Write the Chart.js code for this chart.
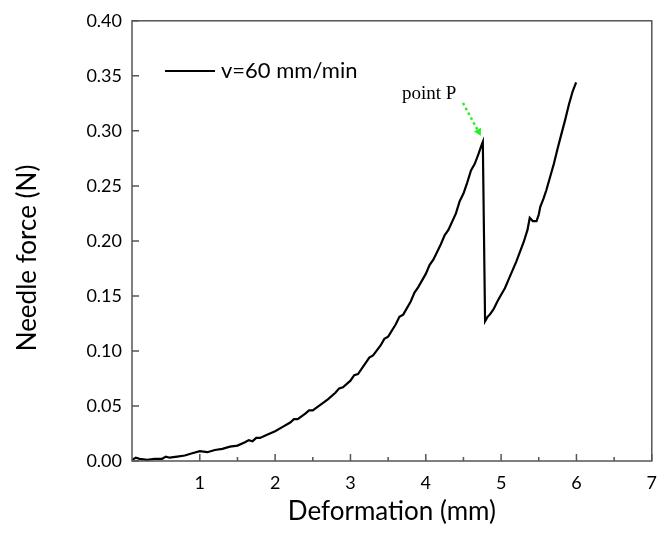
<!DOCTYPE html>
<html>
<head>
<meta charset="utf-8">
<script src="https://cdn.jsdelivr.net/npm/chart.js@4.4.1/dist/chart.umd.min.js"></script>
<style>
  html, body { margin: 0; padding: 0; background: #fff; }
  #wrap { width: 668px; height: 533px; }
</style>
</head>
<body>
<div id="wrap"><canvas id="needle"></canvas></div>
<script>
// deformation (mm) / needle force (N)
const deformation = [0.10, 0.15, 0.20, 0.30, 0.40, 0.50, 0.55, 0.60, 0.70, 0.80, 0.90, 1.00,
    1.10, 1.20, 1.30, 1.40, 1.50, 1.60, 1.65, 1.70, 1.75, 1.80, 1.90,
    2.00, 2.10, 2.20, 2.25, 2.30, 2.40, 2.45, 2.50, 2.60, 2.70, 2.80, 2.85, 2.90,
    3.00, 3.05, 3.10, 3.20, 3.25, 3.30, 3.40, 3.45, 3.50, 3.60, 3.65, 3.70, 3.80, 3.85, 3.90,
    4.00, 4.05, 4.10, 4.20, 4.25, 4.30, 4.40, 4.45, 4.50, 4.55, 4.60, 4.65, 4.70,
    4.74, 4.757, 4.787, 4.82, 4.85, 4.90, 4.95, 5.00, 5.05, 5.10,
    5.15, 5.20, 5.25, 5.30, 5.35, 5.38, 5.42, 5.47, 5.50, 5.52,
    5.56, 5.60, 5.65, 5.70, 5.75, 5.80, 5.85, 5.90, 5.95, 5.996];
const force = [0.001, 0.003, 0.002, 0.001, 0.002, 0.002, 0.004, 0.003, 0.004, 0.005, 0.007, 0.009,
    0.008, 0.010, 0.011, 0.013, 0.014, 0.017, 0.019, 0.018, 0.021, 0.021, 0.024,
    0.027, 0.031, 0.035, 0.038, 0.038, 0.043, 0.046, 0.046, 0.051, 0.056, 0.062, 0.066, 0.067,
    0.073, 0.078, 0.079, 0.089, 0.094, 0.096, 0.105, 0.111, 0.113, 0.124, 0.131, 0.133, 0.145, 0.153, 0.158,
    0.170, 0.178, 0.183, 0.197, 0.205, 0.210, 0.225, 0.236, 0.243, 0.253, 0.264, 0.270, 0.279,
    0.287, 0.290, 0.127, 0.131, 0.133, 0.138, 0.145, 0.151, 0.157, 0.165,
    0.173, 0.181, 0.190, 0.199, 0.210, 0.221, 0.218, 0.218, 0.224, 0.231,
    0.238, 0.246, 0.258, 0.270, 0.284, 0.297, 0.310, 0.324, 0.336, 0.344];

const xTicks = [1, 2, 3, 4, 5, 6, 7];
const xMinor = [1.5, 2.5, 3.5, 4.5, 5.5, 6.5];
const yTicks = [0, 0.05, 0.10, 0.15, 0.20, 0.25, 0.30, 0.35, 0.40];
const seriesName = 'v=60 mm/min';
const pointLabel = 'point P';
const peakX = 4.757, peakY = 0.290;

const frameColor = '#555555';

// 외곽 박스, 안쪽 눈금, 축 제목, 범례, point P 화살표
const decor = {
    id: 'decor',
    afterDraw(c) {
        const ctx = c.ctx;
        const a = c.chartArea;
        const xs = c.scales.x, ys = c.scales.y;
        ctx.save();
        ctx.strokeStyle = frameColor;
        ctx.lineWidth = 1.5;
        ctx.strokeRect(a.left, a.top, a.right - a.left, a.bottom - a.top);

        ctx.beginPath();
        xTicks.forEach(v => {
            const px = xs.getPixelForValue(v);
            ctx.moveTo(px, a.bottom); ctx.lineTo(px, a.bottom - 7);
        });
        xMinor.forEach(v => {
            const px = xs.getPixelForValue(v);
            ctx.moveTo(px, a.bottom); ctx.lineTo(px, a.bottom - 4);
        });
        yTicks.forEach(v => {
            const py = ys.getPixelForValue(v);
            ctx.moveTo(a.left, py); ctx.lineTo(a.left + 7, py);
        });
        ctx.stroke();

        // 축 제목
        ctx.fillStyle = '#000';
        ctx.font = '26px Lato';
        ctx.textAlign = 'center';
        ctx.textBaseline = 'alphabetic';
        ctx.fillText('Deformation (mm)', (a.left + a.right) / 2, 520);

        ctx.save();
        ctx.translate(28, 258);
        ctx.rotate(-Math.PI / 2);
        ctx.textBaseline = 'middle';
        ctx.fillText('Needle force (N)', 0, 0);
        ctx.restore();

        // 범례
        ctx.strokeStyle = '#000';
        ctx.lineWidth = 2;
        ctx.beginPath();
        ctx.moveTo(165, 71); ctx.lineTo(215, 71);
        ctx.stroke();
        ctx.font = '22px Lato';
        ctx.textAlign = 'left';
        ctx.textBaseline = 'middle';
        ctx.fillText(seriesName, 221, 71);

        // point P
        ctx.font = '19px "Liberation Serif"';
        ctx.textBaseline = 'alphabetic';
        ctx.fillText(pointLabel, 402, 99);

        const ex = xs.getPixelForValue(peakX) - 2;
        const ey = ys.getPixelForValue(peakY) - 6;
        const sx = 463, sy = 103;
        const ang = Math.atan2(ey - sy, ex - sx);
        const hx = ex - 7 * Math.cos(ang), hy = ey - 7 * Math.sin(ang);
        ctx.strokeStyle = '#22ee22';
        ctx.fillStyle = '#22ee22';
        ctx.lineWidth = 2.5;
        ctx.setLineDash([2.5, 3]);
        ctx.beginPath();
        ctx.moveTo(sx, sy); ctx.lineTo(hx, hy);
        ctx.stroke();
        ctx.setLineDash([]);
        ctx.beginPath();
        ctx.moveTo(ex, ey);
        ctx.lineTo(hx + 4 * Math.sin(ang), hy - 4 * Math.cos(ang));
        ctx.lineTo(hx - 4 * Math.sin(ang), hy + 4 * Math.cos(ang));
        ctx.closePath();
        ctx.fill();
        ctx.restore();
    }
};

const ctx = document.getElementById('needle').getContext('2d');
const chart = new Chart(ctx, {
    type: 'scatter',
    data: {
        datasets: [{
            label: seriesName,
            data: deformation.map((d, i) => ({ x: d, y: force[i] })),
            showLine: true,
            borderColor: '#000',
            borderWidth: 2.2,
            pointRadius: 0,
            tension: 0
        }]
    },
    options: {
        responsive: true,
        maintainAspectRatio: false,
        animation: false,
        layout: { padding: { top: 16, right: 16, left: 0, bottom: 0 } },
        scales: {
            x: {
                type: 'linear',
                min: 0.1,
                max: 7,
                afterBuildTicks: s => { s.ticks = xTicks.map(v => ({ value: v })); },
                afterFit: s => { s.height = 72; },
                grid: { display: false, drawTicks: false },
                border: { display: false },
                ticks: {
                    padding: 11,
                    color: '#000',
                    font: { family: 'Lato', size: 18 },
                    maxRotation: 0,
                    callback: v => String(v)
                }
            },
            y: {
                min: 0,
                max: 0.40,
                afterBuildTicks: s => { s.ticks = yTicks.map(v => ({ value: v })); },
                afterFit: s => { s.width = 132; },
                grid: { display: false, drawTicks: false },
                border: { display: false },
                ticks: {
                    padding: 10,
                    color: '#000',
                    font: { family: 'Lato', size: 18 },
                    callback: v => v.toFixed(2)
                }
            }
        },
        plugins: {
            legend: { display: false },
            tooltip: { enabled: false }
        }
    },
    plugins: [decor]
});
</script>
</body>
</html>
